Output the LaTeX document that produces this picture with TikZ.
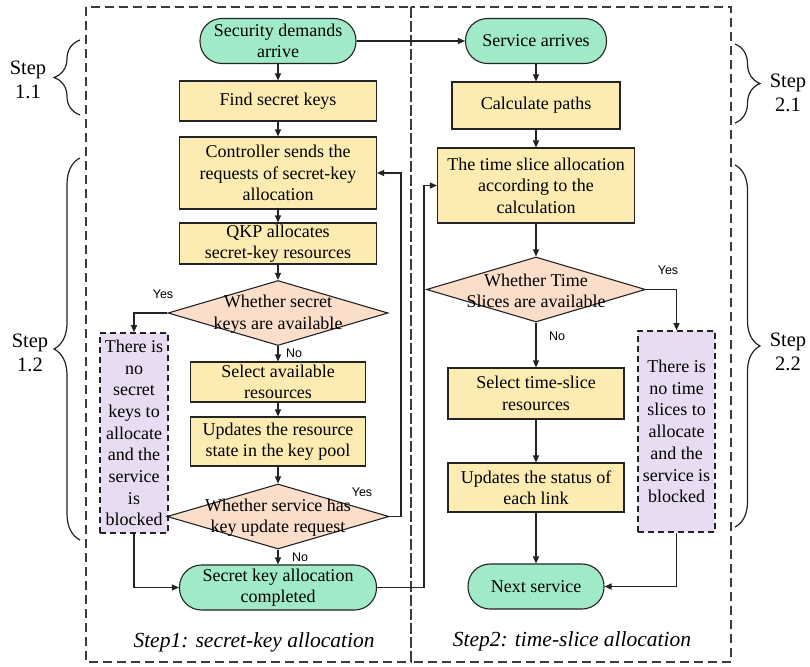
\documentclass[tikz,border=0pt]{standalone}
\usepackage{fontspec}
\setmainfont{Liberation Serif}
\newfontfamily\lblsans{Liberation Sans}
\usetikzlibrary{shapes.geometric,arrows.meta,decorations.pathreplacing}
\definecolor{edge}{RGB}{35,35,35}
\definecolor{ybox}{RGB}{253,236,178}
\definecolor{gterm}{RGB}{160,234,200}
\definecolor{pdec}{RGB}{251,222,202}
\definecolor{pblk}{RGB}{232,220,242}
\definecolor{framec}{RGB}{60,60,60}
\begin{document}
\begin{tikzpicture}[x=1pt,y=-1pt,
  box/.style={draw=edge, line width=1.1pt, fill=ybox, inner sep=0pt, align=center,
    font=\fontsize{18}{21.5}\selectfont},
  term/.style={box, fill=gterm, rounded corners=22pt},
  dec/.style={draw=edge, line width=1.1pt, fill=pdec, diamond, inner sep=0pt},
  dtext/.style={align=center, inner sep=0pt, font=\fontsize{18}{21.5}\selectfont},
  blocked/.style={box, fill=pblk, dash pattern=on 6pt off 4pt, line width=1.6pt,
    font=\fontsize{18}{21.7}\selectfont},
  arr/.style={-{Triangle[length=7pt,width=6pt]}, line width=1.1pt, draw=edge},
  yn/.style={font=\lblsans\fontsize{12.5}{14}\selectfont, inner sep=0pt},
  frame/.style={draw=framec, line width=1.3pt, dash pattern=on 9pt off 5pt},
  brc/.style={draw=edge, line width=1.2pt, decorate, decoration={brace, amplitude=#1}},
  steplbl/.style={align=center, inner sep=0pt, font=\fontsize{20.5}{24}\selectfont},
  capt/.style={inner sep=0pt, font=\itshape\fontsize{21.5}{25}\selectfont}
]
\useasboundingbox (0,0) rectangle (810,666);
\fill[white] (0,0) rectangle (810,666);

% frames
\draw[frame] (86,7) rectangle (411,662);
\draw[frame] (411,7) rectangle (731,662);

% left column
\node[term, minimum width=156pt, minimum height=45pt] (sec) at (278,41) {Security demands\\arrive};
\node[box, minimum width=197pt, minimum height=40pt] (find) at (278,101) {Find secret keys};
\node[box, minimum width=197pt, minimum height=72pt] (ctrl) at (278,173) {Controller sends the\\requests of secret-key\\allocation};
\node[box, minimum width=197pt, minimum height=41pt] (qkp) at (278,243.5) {QKP allocates\\secret-key resources};
\node[dec, minimum width=220pt, minimum height=65pt] (d1) at (278,313) {};
\node[dtext] (d1t) at (278,314) {Whether secret\\keys are available};
\node[blocked, minimum width=68pt, minimum height=200pt] (blk1) at (134,433) {There is\\no\\secret\\keys to\\allocate\\and the\\service\\is\\blocked};
\node[box, minimum width=175pt, minimum height=40pt] (sel) at (278,382) {Select available\\resources};
\node[box, minimum width=175pt, minimum height=49pt] (upd) at (278,441.5) {Updates the resource\\state in the key pool};
\node[dec, minimum width=222pt, minimum height=65pt] (d2) at (278,516.5) {};
\node[dtext] (d2t) at (278,517.5) {Whether service has\\key update request};
\node[term, minimum width=197pt, minimum height=45pt] (done) at (278,587.5) {Secret key allocation\\completed};
\node[capt] (c1) at (254,642) {Step1: secret-key allocation};

% right column
\node[term, minimum width=141pt, minimum height=45pt] (srv) at (536,41) {Service arrives};
\node[box, minimum width=168pt, minimum height=47pt] (calc) at (536,105.5) {Calculate paths};
\node[box, minimum width=197pt, minimum height=75pt] (tsa) at (536,185.5) {The time slice allocation\\according to the\\calculation};
\node[dec, minimum width=219pt, minimum height=65pt] (d3) at (536,289.5) {};
\node[dtext] (d3t) at (536,291) {Whether Time\\Slices are available};
\node[box, minimum width=176pt, minimum height=51pt] (tsel) at (536,393.5) {Select time-slice\\resources};
\node[box, minimum width=176pt, minimum height=49pt] (tupd) at (536,487.5) {Updates the status of\\each link};
\node[term, minimum width=136pt, minimum height=45pt] (next) at (536,586.5) {Next service};
\node[blocked, minimum width=77pt, minimum height=201pt] (blk2) at (676.5,431.5) {There is\\no time\\slices to\\allocate\\and the\\service is\\blocked};
\node[capt] (c2) at (572,641) {Step2: time-slice allocation};

% helper coordinates
\coordinate (fb) at (401,0);
\coordinate (rl) at (424,0);

% connectors left
\draw[arr] (sec) -- (find);
\draw[arr] (find) -- (ctrl);
\draw[arr] (ctrl) -- (qkp);
\draw[arr] (qkp) -- (d1);
\draw[arr] (d1.west) -| (blk1.north);
\draw[arr] (d1.south) -- (sel.north);
\draw[arr] (sel) -- (upd);
\draw[arr] (upd) -- (d2);
\draw[arr] (d2.east) -- (d2.east -| fb) |- (ctrl.east);
\draw[arr] (d2.south) -- (done.north);
\draw[arr] (blk1.south) |- (done.west);
\draw[arr] (sec.east) -- (srv.west);
\draw[arr] (done.east) -- (done.east -| rl) |- (tsa.west);

% connectors right
\draw[arr] (srv) -- (calc);
\draw[arr] (calc) -- (tsa);
\draw[arr] (tsa) -- (d3);
\draw[arr] (d3.east) -| (blk2.north);
\draw[arr] (d3.south) -- (tsel.north);
\draw[arr] (tsel) -- (tupd);
\draw[arr] (tupd) -- (next);
\draw[arr] (blk2.south) |- (next.east);

% yes / no labels
\node[yn] (y1) at (163,294) {Yes};
\node[yn] (n1) at (294,353) {No};
\node[yn] (y2) at (362,492) {Yes};
\node[yn] (n2) at (300,557) {No};
\node[yn] (y3) at (668,270) {Yes};
\node[yn] (n3) at (557,336) {No};

% braces
\draw[brc=26pt] (80,115) -- (80,40);
\draw[brc=26pt] (80,540) -- (80,158);
\draw[brc=25pt] (735,44) -- (735,123);
\draw[brc=25pt] (735,165) -- (735,527);
\node[steplbl] (s11) at (28,80) {Step\\1.1};
\node[steplbl] (s12) at (30,353) {Step\\1.2};
\node[steplbl] (s21) at (788,93) {Step\\2.1};
\node[steplbl] (s22) at (788,352) {Step\\2.2};
\end{tikzpicture}
\end{document}
